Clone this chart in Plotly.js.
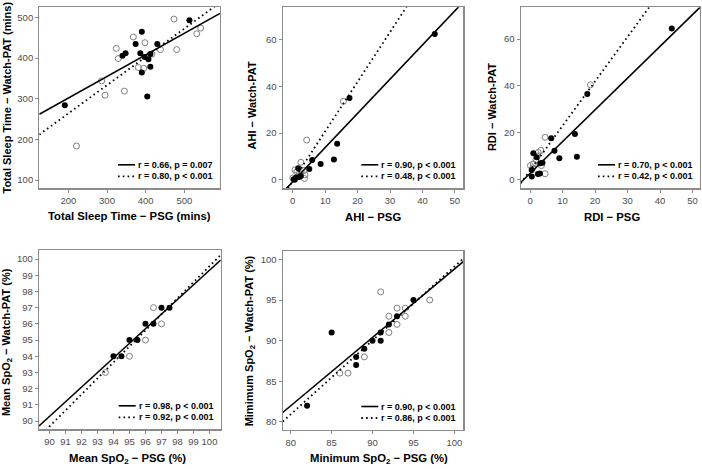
<!DOCTYPE html>
<html><head><meta charset="utf-8">
<script src="https://cdn.plot.ly/plotly-3.0.1.min.js"></script>
<style>html,body{margin:0;padding:0;background:#fff}</style>
</head><body><div id="chart" style="width:702px;height:469px"></div>
<script>
// ---------- DATA ----------
// Panel 1: Total sleep time (mins)
const tstPsgFilled = [191, 340, 348, 374, 390, 386, 397, 407, 412, 430, 412, 390, 404, 513];
const tstPatFilled = [284, 406, 412, 435, 465, 412, 403, 397, 410, 435, 379, 365, 306, 493];
const tstPsgOpen   = [221, 286, 295, 324, 329, 345, 368, 381, 395, 398, 416, 438, 473, 480, 532, 542];
const tstPatOpen   = [184, 344, 309, 424, 399, 319, 452, 377, 375, 438, 410, 421, 496, 421, 460, 474];
// Panel 2: AHI
const ahiPsgFilled = [43.8, 17.5, 13.7, 12.7, 8.6, 6.0, 5.1, 1.7, 2.5, 1.0, 0.3, 2.0, 0.6];
const ahiPatFilled = [62.3, 35.0, 15.4, 8.7, 6.8, 8.5, 4.6, 5.0, 1.7, 0.9, 0.3, 1.2, 0.0];
const ahiPsgOpen   = [15.6, 4.3, 2.5, 0.7, 1.2, 3.5, 3.8, 0.0, 3.6, 2.0, 1.5];
const ahiPatOpen   = [33.5, 17.0, 7.5, 4.3, 3.4, 4.0, 2.1, 0.8, 0.6, 2.5, 1.5];
// Panel 3: RDI
const rdiPsgFilled = [43.6, 17.6, 13.8, 14.4, 6.5, 7.5, 9.0, 1.0, 2.0, 3.1, 3.8, 0.5, 0.5, 2.4, 3.0];
const rdiPatFilled = [64.5, 36.6, 19.5, 9.8, 17.7, 12.3, 9.1, 11.3, 9.6, 7.0, 7.2, 4.1, 1.3, 2.4, 2.6];
const rdiPsgOpen   = [18.6, 4.6, 2.5, 3.3, 1.8, 2.2, 0.1, 1.0, 4.6, 3.5, 0.8];
const rdiPatOpen   = [40.5, 18.1, 11.6, 12.5, 8.5, 10.0, 6.0, 6.7, 2.5, 6.0, 5.0];
// Panel 4: Mean SpO2 (%)
const meanPsgFilled = [94, 94.5, 95, 95.5, 96, 96.5, 97, 97.5];
const meanPatFilled = [94, 94, 95, 95, 96, 96, 97, 97];
const meanPsgOpen   = [93.5, 95, 96, 96.5, 97];
const meanPatOpen   = [93, 94, 95, 97, 96];
// Panel 5: Minimum SpO2 (%)
const minPsgFilled = [82, 85, 88, 88, 89, 90, 91, 91, 92, 93, 95];
const minPatFilled = [82, 91, 88, 87, 89, 90, 91, 90, 92, 93, 95];
const minPsgOpen   = [91, 86, 87, 89, 92, 92, 93, 93, 94, 94, 97];
const minPatOpen   = [96, 86, 86, 88, 93, 91, 94, 92, 94, 93, 95];

// Regression lines [intercept, slope]
const fitSolid  = [[195.6, 0.531], [-0.8, 1.46], [2.7, 1.356], [9.01, 0.903], [14.73, 0.8406]];
const fitDotted = [[125.1, 0.695], [-0.5, 2.12], [4.0, 1.9],   [0.56, 0.99],  [8.21, 0.909]];
// Legend labels
const labelsSolid  = ["r = 0.66, p = 0.007", "r = 0.90, p < 0.001", "r = 0.70, p < 0.001", "r = 0.98, p < 0.001", "r = 0.90, p < 0.001"];
const labelsDotted = ["r = 0.80, p < 0.001", "r = 0.48, p < 0.001", "r = 0.42, p < 0.001", "r = 0.92, p < 0.001", "r = 0.86, p < 0.001"];
// Axis titles
const xTitles = ["Total Sleep Time − PSG (mins)", "AHI − PSG", "RDI − PSG", "Mean SpO<sub>2</sub> − PSG (%)", "Minimum SpO<sub>2</sub> − PSG (%)"];
const yTitles = ["Total Sleep Time − Watch-PAT (mins)", "AHI − Watch-PAT", "RDI − Watch-PAT", "Mean SpO<sub>2</sub> − Watch-PAT (%)", "Mimimum SpO<sub>2</sub> − Watch-PAT (%)"];

// ---------- LAYOUT ----------
const W = 702, H = 469;
// panel boxes in px: [left, right, top, bottom]
const boxes = [[39.3, 220, 7.3, 188.3], [282.7, 463.3, 7.3, 188.3], [520.7, 700, 7.3, 188.3],
               [39, 220.7, 250, 429.3], [282.7, 463.3, 250.7, 430]];
const xRanges = [[125, 592], [-3.1, 52.6], [-2.9, 52.3], [89.35, 100.7], [79.02, 101.1]];
const yRanges = [[80, 525], [-3.6, 73.7], [-3.7, 73.6], [89.49, 100.56], [79.0, 101.07]];
const dticks = [[100, 100], [10, 20], [10, 20], [1, 1], [5, 5]];
const xTitleShift = [[0, -27.7], [0, -28.4], [2, -28.4], [-2, -29.7], [6, -29]];
const yTitleShift = [[-32.6, 0], [-31, -8], [-29.4, -9], [-32.6, -2], [-32.7, -1]];

const panels = [
  [tstPsgFilled, tstPatFilled, tstPsgOpen, tstPatOpen],
  [ahiPsgFilled, ahiPatFilled, ahiPsgOpen, ahiPatOpen],
  [rdiPsgFilled, rdiPatFilled, rdiPsgOpen, rdiPatOpen],
  [meanPsgFilled, meanPatFilled, meanPsgOpen, meanPatOpen],
  [minPsgFilled, minPatFilled, minPsgOpen, minPatOpen]
];

const FONT = "'Liberation Sans', Arial, sans-serif";
const DOT = '1.6px,3.2px';
const traces = [], annotations = [], shapes = [];
const layout = {
  width: W, height: H, margin: {l: 0, r: 0, t: 0, b: 0},
  paper_bgcolor: '#fff', plot_bgcolor: '#fff', showlegend: false,
  font: {family: FONT, color: '#000'}
};

panels.forEach((p, i) => {
  const n = i === 0 ? '' : String(i + 1);
  const xa = 'x' + n, ya = 'y' + n;
  const b = boxes[i];
  const axBase = {
    showgrid: false, zeroline: false, showline: true, mirror: true,
    linecolor: '#8c8c8c', linewidth: 1.2,
    ticks: 'outside', ticklen: 3, tickcolor: '#8c8c8c', tickwidth: 1,
    tickfont: {family: FONT, size: 9.5, color: '#4d4d4d'},
    fixedrange: true
  };
  layout['xaxis' + n] = Object.assign({}, axBase, {
    domain: [b[0] / W, b[1] / W], range: xRanges[i], dtick: dticks[i][0], tick0: 0,
    anchor: ya
  });
  layout['yaxis' + n] = Object.assign({}, axBase, {
    domain: [1 - b[3] / H, 1 - b[2] / H], range: yRanges[i], dtick: dticks[i][1], tick0: 0,
    anchor: xa
  });
  // open circles
  traces.push({type: 'scatter', mode: 'markers', x: p[2], y: p[3], xaxis: xa, yaxis: ya,
    marker: {symbol: 'circle-open', size: 6, color: '#7f7f7f', line: {width: 1, color: '#7f7f7f'}}, hoverinfo: 'skip'});
  // filled circles
  traces.push({type: 'scatter', mode: 'markers', x: p[0], y: p[1], xaxis: xa, yaxis: ya,
    marker: {symbol: 'circle', size: 6, color: '#000'}, hoverinfo: 'skip'});
  // fit lines across the axis range
  const xr = xRanges[i];
  const s = fitSolid[i], d = fitDotted[i];
  traces.push({type: 'scatter', mode: 'lines', x: xr, y: xr.map(v => s[0] + s[1] * v), xaxis: xa, yaxis: ya,
    line: {color: '#000', width: 1.6}, hoverinfo: 'skip'});
  traces.push({type: 'scatter', mode: 'lines', x: xr, y: xr.map(v => d[0] + d[1] * v), xaxis: xa, yaxis: ya,
    line: {color: '#000', width: 1.8, dash: DOT}, hoverinfo: 'skip'});

  // legend keys
  const rows = [[23.5, labelsSolid[i], 'solid'], [12, labelsDotted[i], DOT]];
  rows.forEach(r => {
    shapes.push({type: 'line', xref: xa + ' domain', yref: ya + ' domain',
      xsizemode: 'pixel', ysizemode: 'pixel', xanchor: 1, yanchor: 0,
      x0: -102, x1: -85, y0: r[0], y1: r[0],
      line: {color: '#000', width: r[2] === 'solid' ? 1.6 : 1.8, dash: r[2]}});
    annotations.push({xref: xa + ' domain', yref: ya + ' domain', x: 1, y: 0,
      xanchor: 'left', yanchor: 'middle', xshift: -84, yshift: r[0], showarrow: false,
      text: '<b>' + r[1] + '</b>', font: {family: FONT, size: 9, color: '#000'}});
  });
  // axis titles
  annotations.push({xref: xa + ' domain', yref: ya + ' domain', x: 0.5, y: 0,
    xanchor: 'center', yanchor: 'middle', xshift: xTitleShift[i][0], yshift: xTitleShift[i][1],
    showarrow: false, text: '<b>' + xTitles[i] + '</b>', font: {family: FONT, size: 11.3, color: '#000'}});
  annotations.push({xref: xa + ' domain', yref: ya + ' domain', x: 0, y: 0.5,
    xanchor: 'center', yanchor: 'middle', xshift: yTitleShift[i][0], yshift: yTitleShift[i][1],
    textangle: -90, showarrow: false, text: '<b>' + yTitles[i] + '</b>', font: {family: FONT, size: 11, color: '#000'}});
});

layout.annotations = annotations;
layout.shapes = shapes;
Plotly.newPlot('chart', traces, layout, {displayModeBar: false, staticPlot: true});
</script>
</body></html>
